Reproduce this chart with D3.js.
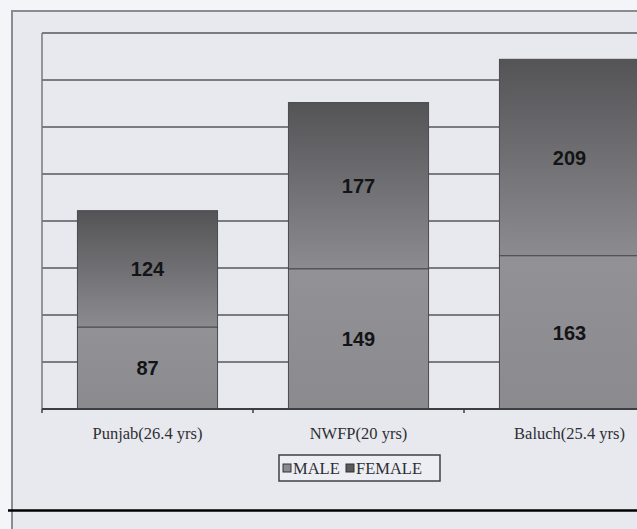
<!DOCTYPE html>
<html>
<head>
<meta charset="utf-8">
<script src="https://cdn.jsdelivr.net/npm/d3@7/dist/d3.min.js"></script>
<style>
  html, body { margin: 0; padding: 0; background: #fff; }
  svg { display: block; }
</style>
</head>
<body>
<div id="graph"></div>
<script>
var regions = ['Punjab(26.4 yrs)', 'NWFP(20 yrs)', 'Baluch(25.4 yrs)']
var male = [87, 149, 163]
var female = [124, 177, 209]
var gridTicks = [0, 50, 100, 150, 200, 250, 300, 350, 400]
var legendKeys = ['MALE', 'FEMALE']

var width = 637, height = 529

var svg = d3.select('#graph').append('svg')
  .attr('width', width).attr('height', height)

var defs = svg.append('defs')
var gf = defs.append('linearGradient').attr('id', 'gfem')
  .attr('x1', 0).attr('y1', 0).attr('x2', 0).attr('y2', 1)
gf.append('stop').attr('offset', '0%').attr('stop-color', '#545457')
gf.append('stop').attr('offset', '100%').attr('stop-color', '#8c8c90')
var gm = defs.append('linearGradient').attr('id', 'gmale')
  .attr('x1', 0).attr('y1', 0).attr('x2', 0).attr('y2', 1)
gm.append('stop').attr('offset', '0%').attr('stop-color', '#919196')
gm.append('stop').attr('offset', '100%').attr('stop-color', '#8a8a8f')

// paper + outer frame
svg.append('rect').attr('x', 0).attr('y', 0).attr('width', width).attr('height', height)
  .attr('fill', '#f4f5f8')
svg.append('rect').attr('x', 12).attr('y', 11).attr('width', 700).attr('height', 600)
  .attr('fill', '#e7e9ef').attr('stroke', '#8a8c92').attr('stroke-width', 2)

var plot = {left: 42, right: 675, top: 33, bottom: 409}

var y = d3.scaleLinear().domain([0, 400]).range([plot.bottom, plot.top])
var x = d3.scaleBand().domain(regions).range([plot.left, plot.right])
  .paddingInner(0.336).paddingOuter(0.168)

// gridlines
svg.append('g').selectAll('line').data(gridTicks.slice(1)).join('line')
  .attr('x1', plot.left).attr('x2', plot.right)
  .attr('y1', d => y(d)).attr('y2', d => y(d))
  .attr('stroke', '#55575c').attr('stroke-width', 1.6)

// left axis line
svg.append('line').attr('x1', plot.left).attr('x2', plot.left)
  .attr('y1', plot.top).attr('y2', plot.bottom)
  .attr('stroke', '#77797e').attr('stroke-width', 1.5)

// stacked bars
var bars = svg.append('g').selectAll('g').data(regions).join('g')

bars.append('rect')
  .attr('x', d => x(d)).attr('width', x.bandwidth())
  .attr('y', (d, i) => y(male[i] + female[i]))
  .attr('height', (d, i) => y(male[i]) - y(male[i] + female[i]))
  .attr('fill', 'url(#gfem)').attr('stroke', '#4a4a4e').attr('stroke-width', 1)

bars.append('rect')
  .attr('x', d => x(d)).attr('width', x.bandwidth())
  .attr('y', (d, i) => y(male[i]))
  .attr('height', (d, i) => y(0) - y(male[i]))
  .attr('fill', 'url(#gmale)').attr('stroke', '#4a4a4e').attr('stroke-width', 1)

bars.append('text')
  .attr('x', d => x(d) + x.bandwidth() / 2)
  .attr('y', (d, i) => y(male[i] + female[i] / 2))
  .attr('dy', '0.36em').attr('text-anchor', 'middle')
  .attr('font-family', 'Liberation Sans, Arial, sans-serif')
  .attr('font-weight', 'bold').attr('font-size', 20).attr('fill', '#141416')
  .text((d, i) => female[i])

bars.append('text')
  .attr('x', d => x(d) + x.bandwidth() / 2)
  .attr('y', (d, i) => y(male[i] / 2))
  .attr('dy', '0.36em').attr('text-anchor', 'middle')
  .attr('font-family', 'Liberation Sans, Arial, sans-serif')
  .attr('font-weight', 'bold').attr('font-size', 20).attr('fill', '#141416')
  .text((d, i) => male[i])

// x axis line + ticks at category boundaries
svg.append('line').attr('x1', plot.left).attr('x2', plot.right)
  .attr('y1', plot.bottom).attr('y2', plot.bottom)
  .attr('stroke', '#3c3e42').attr('stroke-width', 1.8)
svg.append('g').selectAll('line').data(regions).join('line')
  .attr('x1', d => x(d) - x.step() * x.paddingOuter())
  .attr('x2', d => x(d) - x.step() * x.paddingOuter())
  .attr('y1', plot.bottom).attr('y2', plot.bottom + 4)
  .attr('stroke', '#3c3e42').attr('stroke-width', 1.5)

svg.append('g').selectAll('text').data(regions).join('text')
  .attr('x', d => x(d) + x.bandwidth() / 2)
  .attr('y', 439)
  .attr('text-anchor', 'middle')
  .attr('font-family', 'Liberation Serif, Times New Roman, serif')
  .attr('font-size', 16.5).attr('fill', '#2e2f33')
  .text(d => d)

// legend
var lg = svg.append('g').attr('transform', 'translate(279,455)')
lg.append('rect').attr('width', 161).attr('height', 26)
  .attr('fill', '#eceef3').attr('stroke', '#3e4044').attr('stroke-width', 1.5)
var legendX = [4, 67]
var legendFill = ['#8a8a8f', '#5a5a5e']
var li = lg.selectAll('g.item').data(legendKeys).join('g')
  .attr('class', 'item')
  .attr('transform', (d, i) => `translate(${legendX[i]},0)`)
li.append('rect').attr('x', 0).attr('y', 9).attr('width', 8).attr('height', 8)
  .attr('fill', (d, i) => legendFill[i]).attr('stroke', '#333').attr('stroke-width', 1)
li.append('text').attr('x', 10).attr('y', 19)
  .attr('font-family', 'Liberation Serif, Times New Roman, serif')
  .attr('font-size', 16.5).attr('fill', '#2e2f33')
  .text(d => d)

// page rule at bottom
svg.append('line').attr('x1', 8).attr('x2', width).attr('y1', 510.5).attr('y2', 510.5)
  .attr('stroke', '#000').attr('stroke-width', 2.5)
</script>
</body>
</html>
